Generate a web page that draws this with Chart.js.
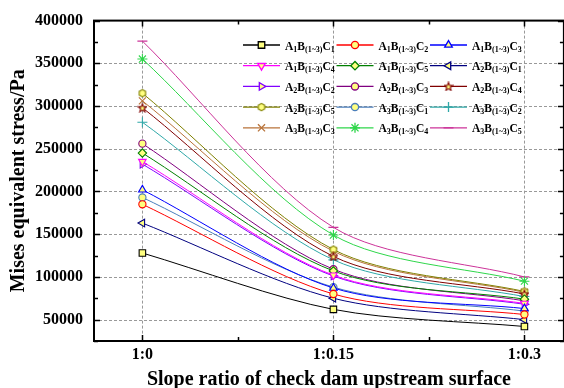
<!DOCTYPE html>
<html>
<head>
<meta charset="utf-8">
<script src="https://cdn.jsdelivr.net/npm/chart.js@4.4.1/dist/chart.umd.min.js"></script>
<style>
html, body { margin: 0; padding: 0; overflow: hidden; background: #fff; }
#wrap { width: 564px; height: 388px; overflow: hidden; }
</style>
</head>
<body>
<div id="wrap"><canvas id="chart" width="570" height="388"></canvas></div>
<script>
// slope ratio positions on the x axis and their labels
const slopeValues = [0, 0.15, 0.3];
const slopeLabels = ['1:0', '1:0.15', '1:0.3'];
// y ticks (major ones get a label and a grid line)
const stressTicks = [25000, 50000, 75000, 100000, 125000, 150000, 175000, 200000, 225000,
  250000, 275000, 300000, 325000, 350000, 375000, 400000];

// Mises equivalent stress (Pa) at 1:0, 1:0.15, 1:0.3
const a1c1 = [128000, 62000, 42000];
const a1c2 = [185000, 80000, 56000];
const a1c3 = [202000, 87000, 63000];
const a1c4 = [235000, 102000, 69000];
const a1c5 = [245000, 107000, 74000];
const a2c1 = [163000, 75000, 50000];
const a2c2 = [232000, 101000, 68000];
const a2c3 = [256000, 109000, 72000];
const a2c4 = [298000, 124000, 80000];
const a2c5 = [315000, 132000, 83000];
const a3c1 = [193000, 88000, 60000];
const a3c2 = [281000, 120000, 77000];
const a3c3 = [306000, 130000, 82000];
const a3c4 = [355000, 149000, 95000];
const a3c5 = [376000, 158000, 100000];

const seriesNames = ['A1B(1~3)C1', 'A1B(1~3)C2', 'A1B(1~3)C3', 'A1B(1~3)C4', 'A1B(1~3)C5',
  'A2B(1~3)C1', 'A2B(1~3)C2', 'A2B(1~3)C3', 'A2B(1~3)C4', 'A2B(1~3)C5',
  'A3B(1~3)C1', 'A3B(1~3)C2', 'A3B(1~3)C3', 'A3B(1~3)C4', 'A3B(1~3)C5'];
const seriesValues = [a1c1, a1c2, a1c3, a1c4, a1c5, a2c1, a2c2, a2c3, a2c4, a2c5,
  a3c1, a3c2, a3c3, a3c4, a3c5];

const FILL = '#ffff80';

// little canvases for the marker shapes Chart.js doesn't have
function makeMarker(kind, stroke) {
  const c = document.createElement('canvas');
  c.width = 10; c.height = 10;
  const g = c.getContext('2d');
  g.beginPath();
  if (kind === 'star') {
    for (let i = 0; i < 10; i++) {
      const r = i % 2 === 0 ? 4.4 : 1.9;
      const a = -Math.PI / 2 + i * Math.PI / 5;
      g.lineTo(5 + r * Math.cos(a), 5.4 + r * Math.sin(a));
    }
  } else {
    for (let i = 0; i < 6; i++) {
      const a = Math.PI / 6 + i * Math.PI / 3;
      g.lineTo(5 + 3.7 * Math.cos(a), 5 + 3.7 * Math.sin(a));
    }
  }
  g.closePath();
  g.fillStyle = FILL;
  g.fill();
  g.strokeStyle = stroke;
  g.lineWidth = 1.1;
  g.stroke();
  return c;
}

const looks = [
  { color: '#000000', style: 'rect', radius: 4.6 },
  { color: '#ff0000', style: 'circle', radius: 3.6 },
  { color: '#0000ff', style: 'triangle', radius: 4.4 },
  { color: '#ff00ff', style: 'triangle', radius: 4.4, rotation: 180 },
  { color: '#008000', style: 'rectRot', radius: 4.2 },
  { color: '#000080', style: 'triangle', radius: 4.4, rotation: 270 },
  { color: '#8000ff', style: 'triangle', radius: 4.4, rotation: 90 },
  { color: '#800080', style: 'circle', radius: 3.6 },
  { color: '#800000', style: makeMarker('star', '#800000'), radius: 5 },
  { color: '#808000', style: makeMarker('hex', '#808000'), radius: 5 },
  { color: '#4a7ebb', style: 'circle', radius: 3.6 },
  { color: '#2fa8a8', style: 'cross', radius: 5 },
  { color: '#b8733a', style: 'crossRot', radius: 5 },
  { color: '#2ed64a', style: 'star', radius: 5 },
  { color: '#cc3399', style: 'line', radius: 5 }
];

const datasets = seriesValues.map((vals, i) => {
  const lk = looks[i];
  return {
    label: seriesNames[i],
    data: slopeValues.map((x, j) => ({ x: x, y: vals[j] })),
    borderColor: lk.color,
    backgroundColor: FILL,
    borderWidth: 1,
    tension: 0.3,
    pointStyle: lk.style,
    pointRadius: lk.radius,
    pointRotation: lk.rotation || 0,
    pointBorderColor: lk.color,
    pointBackgroundColor: FILL,
    pointBorderWidth: 1.1
  };
});

function isMajorX(v) {
  return slopeValues.some(s => Math.abs(s - v) < 1e-9);
}
function isMajorY(v) {
  return v % 50000 === 0;
}

// grid lines, frame and inward tick marks like the original plot
const framePlugin = {
  id: 'framePlugin',
  beforeDatasetsDraw(chart) {
    const { ctx, chartArea: a, scales: { x, y } } = chart;
    ctx.save();
    ctx.strokeStyle = '#999999';
    ctx.lineWidth = 1;
    ctx.setLineDash([3, 2]);
    ctx.beginPath();
    slopeValues.forEach(v => {
      const px = Math.round(x.getPixelForValue(v)) + 0.5;
      ctx.moveTo(px, a.top); ctx.lineTo(px, a.bottom);
    });
    stressTicks.forEach(v => {
      if (!isMajorY(v) || v <= y.min || v >= y.max) return;
      const py = Math.round(y.getPixelForValue(v)) + 0.5;
      ctx.moveTo(a.left, py); ctx.lineTo(a.right, py);
    });
    ctx.stroke();
    ctx.restore();
  },
  afterDatasetsDraw(chart) {
    const { ctx, chartArea: a, scales: { x, y } } = chart;
    ctx.save();
    ctx.strokeStyle = '#000';
    ctx.lineWidth = 1.5;
    ctx.beginPath();
    x.ticks.forEach(t => {
      const px = Math.round(x.getPixelForValue(t.value)) + 0.5;
      const len = isMajorX(t.value) ? 6 : 4;
      ctx.moveTo(px, a.bottom); ctx.lineTo(px, a.bottom - len);
      ctx.moveTo(px, a.top); ctx.lineTo(px, a.top + len);
    });
    y.ticks.forEach(t => {
      const py = Math.round(y.getPixelForValue(t.value)) + 0.5;
      const len = isMajorY(t.value) ? 6 : 4;
      ctx.moveTo(a.left, py); ctx.lineTo(a.left + len, py);
      ctx.moveTo(a.right, py); ctx.lineTo(a.right - len, py);
    });
    ctx.stroke();
    ctx.lineWidth = 2;
    ctx.strokeRect(a.left, a.top, a.right - a.left, a.bottom - a.top);
    ctx.restore();
  }
};

// legend: 3 columns x 5 rows inside the plot, with subscripted labels
const legendPlugin = {
  id: 'legendPlugin',
  afterDraw(chart) {
    const ctx = chart.ctx;
    const colX = [243, 336.5, 430];
    ctx.save();
    chart.data.datasets.forEach((ds, i) => {
      const row = Math.floor(i / 3);
      const col = i % 3;
      const x0 = colX[col];
      const yc = 45 + row * 20.7;
      ctx.strokeStyle = ds.borderColor;
      ctx.lineWidth = 1.3;
      ctx.beginPath();
      ctx.moveTo(x0, yc); ctx.lineTo(x0 + 37, yc);
      ctx.stroke();
      ctx.fillStyle = FILL;
      Chart.helpers.drawPoint(ctx, {
        pointStyle: ds.pointStyle,
        rotation: ds.pointRotation,
        radius: ds.pointRadius,
        borderWidth: ds.pointBorderWidth
      }, x0 + 18.5, yc);
      // text: capital letters normal size, the rest as subscripts
      let tx = x0 + 42;
      ctx.fillStyle = '#000';
      ctx.textBaseline = 'alphabetic';
      ds.label.match(/[A-Z]|[^A-Z]+/g).forEach(part => {
        const big = /[A-Z]/.test(part);
        ctx.font = big ? 'bold 11.5px "Liberation Serif"' : 'bold 8px "Liberation Serif"';
        ctx.fillText(part, tx, yc + (big ? 4.5 : 6.5));
        tx += ctx.measureText(part).width;
      });
    });
    ctx.restore();
  }
};

const ctx = document.getElementById('chart').getContext('2d');
const chart = new Chart(ctx, {
  type: 'line',
  data: { datasets: datasets },
  options: {
    responsive: false,
    animation: false,
    layout: { padding: { top: 17, right: 4, left: 0, bottom: 0 } },
    plugins: { legend: { display: false }, tooltip: { enabled: false } },
    scales: {
      x: {
        type: 'linear',
        min: -0.038,
        max: 0.331,
        afterBuildTicks: s => {
          s.ticks = [0, 0.075, 0.15, 0.225, 0.3].map(v => ({ value: v }));
        },
        afterFit: s => { s.height = 47; },
        grid: { display: false, drawTicks: false },
        border: { display: false },
        ticks: {
          autoSkip: false,
          maxRotation: 0,
          padding: 4,
          color: '#000',
          font: { family: 'Liberation Serif', weight: 'bold', size: 16 },
          callback: v => {
            const k = slopeValues.findIndex(s => Math.abs(s - v) < 1e-9);
            return k >= 0 ? slopeLabels[k] : '';
          }
        },
        title: {
          display: true,
          text: 'Slope ratio of check dam upstream surface',
          color: '#000',
          font: { family: 'Liberation Serif', weight: 'bold', size: 20, lineHeight: 0.9 },
          padding: { top: 0, bottom: -1 }
        }
      },
      y: {
        type: 'linear',
        min: 25000,
        max: 400000,
        afterBuildTicks: s => {
          s.ticks = stressTicks.map(v => ({ value: v }));
        },
        afterFit: s => { s.width = 94; },
        grid: { display: false, drawTicks: false },
        border: { display: false },
        ticks: {
          autoSkip: false,
          padding: 11,
          color: '#000',
          font: { family: 'Liberation Serif', weight: 'bold', size: 16 },
          callback: v => (isMajorY(v) ? String(v) : '')
        },
        title: {
          display: true,
          text: 'Mises equivalent stress/Pa',
          color: '#000',
          font: { family: 'Liberation Serif', weight: 'bold', size: 20 },
          padding: { top: 7, bottom: 0 }
        }
      }
    }
  },
  plugins: [framePlugin, legendPlugin]
});
</script>
</body>
</html>
